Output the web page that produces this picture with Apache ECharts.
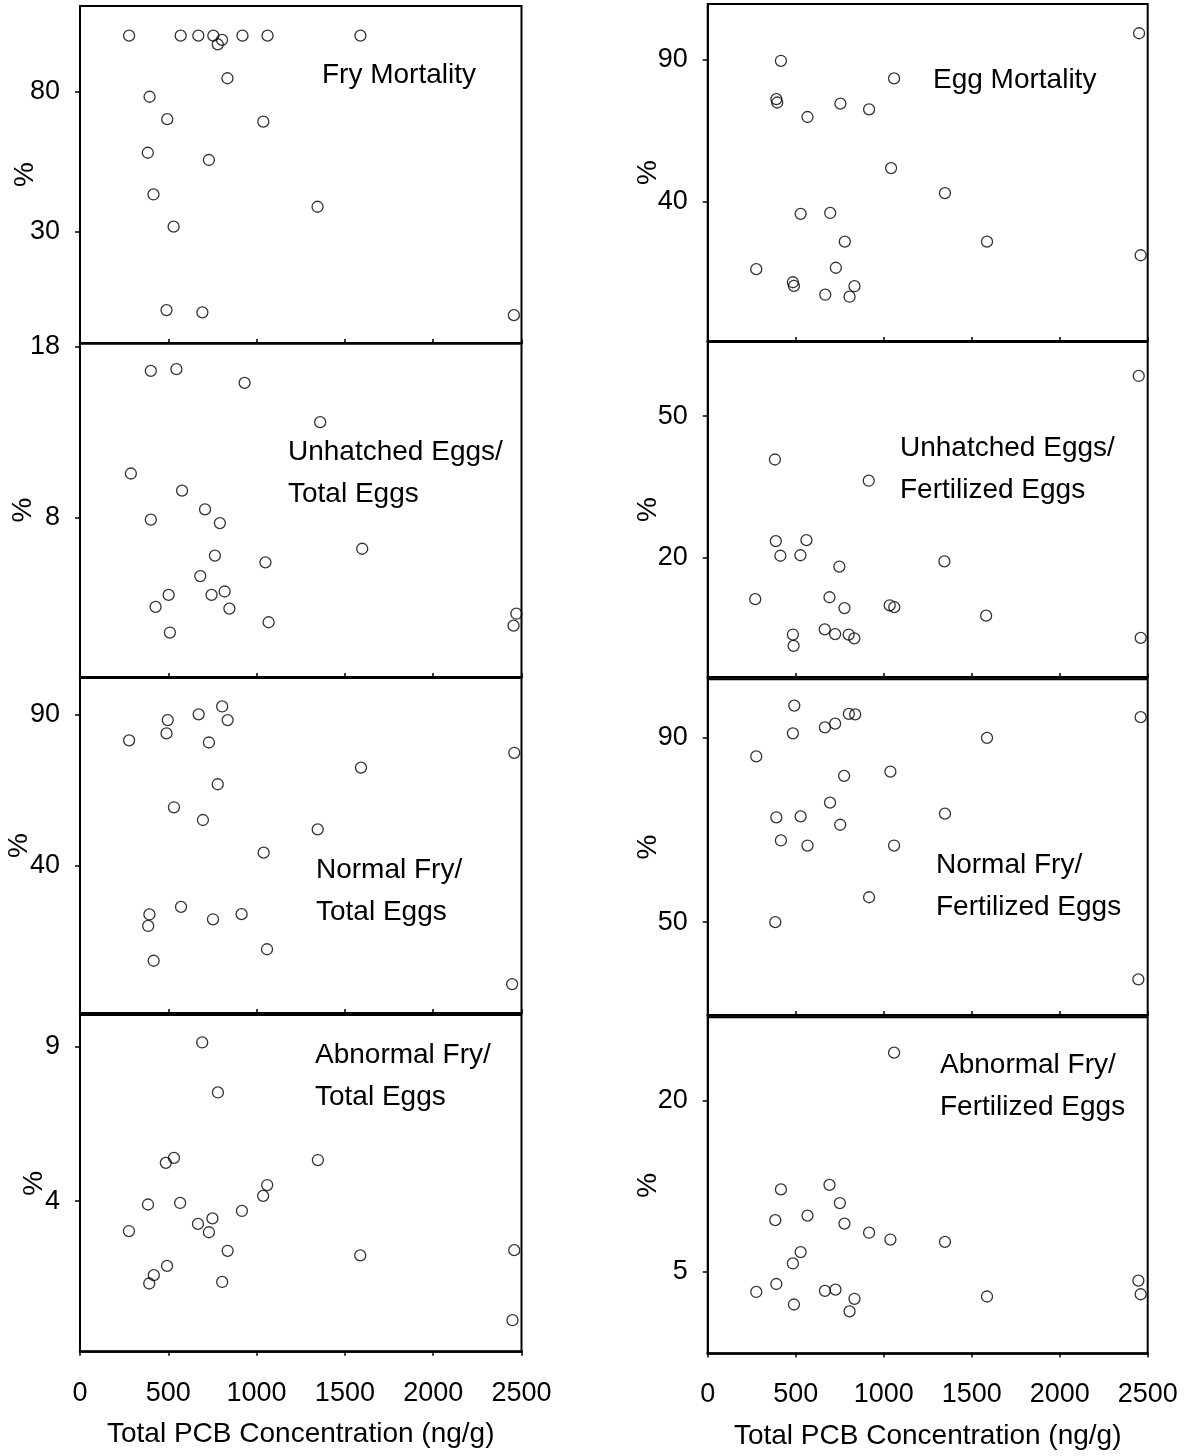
<!DOCTYPE html>
<html><head><meta charset="utf-8">
<script src="https://cdn.jsdelivr.net/npm/echarts@6/dist/echarts.min.js"></script>
<style>html,body{margin:0;padding:0;background:#fff}#c{width:1186px;height:1456px}</style>
</head><body><div id="c"></div>
<script>
// ---------- data ----------
const xTickLabels = [0, 500, 1000, 1500, 2000, 2500];
const xAxisTitle = 'Total PCB Concentration (ng/g)';
const yAxisTitle = '%';

const fryMortalityX = [278, 570, 670, 755, 804, 780, 920, 1062, 1588, 835, 394, 494, 1038, 384, 730, 416, 1345, 530, 490, 693, 2457];
const fryMortalityY = [100, 100, 100, 100, 98.5, 96.9, 100, 100, 100, 84.8, 78.2, 70.2, 69.3, 58.2, 55.6, 43.3, 38.9, 31.8, 2.0, 1.2, 0.2];
const fryMortalityTicks = [30, 80];

const unhatchedTotalX = [401, 546, 932, 1360, 288, 578, 708, 401, 792, 1598, 764, 1050, 681, 502, 745, 819, 428, 846, 1068, 509, 2471, 2455];
const unhatchedTotalY = [16.6, 16.7, 15.9, 13.6, 10.6, 9.6, 8.5, 7.9, 7.7, 6.2, 5.8, 5.4, 4.6, 3.5, 3.5, 3.7, 2.8, 2.7, 1.9, 1.3, 2.4, 1.7];
const unhatchedTotalTicks = [8, 18];

const normalTotalX = [278, 490, 497, 672, 805, 836, 730, 780, 532, 696, 1591, 2459, 1346, 1040, 572, 393, 386, 753, 915, 1059, 417, 2447];
const normalTotalY = [81.4, 83.7, 88.1, 90.0, 92.6, 88.1, 80.7, 66.9, 59.3, 55.1, 72.4, 77.3, 52.0, 44.3, 26.4, 23.9, 20.1, 22.3, 24.0, 12.4, 8.6, 0.9];
const normalTotalTicks = [40, 90];

const abnormalTotalX = [692, 781, 486, 532, 1347, 1060, 1037, 385, 567, 917, 750, 668, 730, 277, 836, 1587, 2459, 493, 418, 392, 805, 2449];
const abnormalTotalY = [9.14, 7.52, 5.24, 5.40, 5.33, 4.52, 4.17, 3.89, 3.94, 3.68, 3.44, 3.26, 2.99, 3.03, 2.39, 2.24, 2.41, 1.90, 1.60, 1.33, 1.38, 0.14];
const abnormalTotalTicks = [4, 9];

const eggMortalityX = [2451, 416, 1059, 390, 395, 754, 917, 567, 1042, 1348, 528, 696, 779, 1587, 2460, 276, 728, 484, 490, 834, 668, 806];
const eggMortalityY = [99.2, 89.5, 83.3, 76.0, 74.8, 74.4, 72.4, 69.7, 51.7, 42.9, 35.6, 35.9, 25.8, 25.8, 21.0, 16.1, 16.6, 11.5, 10.2, 10.1, 7.1, 6.4];
const eggMortalityTicks = [40, 90];

const unhatchedFertX = [2449, 382, 915, 387, 561, 413, 527, 748, 1345, 270, 692, 777, 1034, 1060, 1582, 665, 724, 801, 833, 484, 488, 2460];
const unhatchedFertY = [58.5, 40.8, 36.3, 23.5, 23.7, 20.4, 20.5, 18.1, 19.2, 11.2, 11.6, 9.3, 9.9, 9.5, 7.7, 4.8, 3.8, 3.7, 2.9, 3.7, 1.3, 3.0];
const unhatchedFertTicks = [20, 50];

const normalFertX = [492, 802, 838, 2460, 724, 666, 484, 1587, 276, 1038, 775, 695, 390, 528, 1348, 753, 416, 567, 1059, 917, 384, 2447];
const normalFertY = [96.9, 95.1, 95.0, 94.4, 93.0, 92.2, 90.9, 89.9, 85.9, 82.6, 81.7, 75.9, 72.7, 72.9, 73.5, 71.1, 67.7, 66.6, 66.6, 55.4, 50.0, 37.6];
const normalFertTicks = [50, 90];

const abnormalFertX = [1059, 692, 416, 751, 567, 384, 777, 917, 1038, 1348, 528, 484, 390, 276, 666, 726, 1587, 834, 490, 806, 2447, 2460];
const abnormalFertY = [24.2, 12.6, 12.2, 11.0, 9.9, 9.5, 9.2, 8.4, 7.8, 7.6, 6.7, 5.7, 3.9, 3.2, 3.3, 3.4, 2.8, 2.6, 2.1, 1.5, 4.2, 3.0];
const abnormalFertTicks = [5, 20];

// ---------- layout ----------
const FONT = '"Liberation Sans", Arial, sans-serif';
const FS = 27;
const FT = 28;
const panels = [
  {x: fryMortalityX, y: fryMortalityY, ticks: fryMortalityTicks, min: -9.75, max: 110.6, left: 80, width: 441.5, top: 6, height: 337, bottom: false, label: 'Fry Mortality', lx: 322, ly: 75, pct: 55},
  {x: unhatchedTotalX, y: unhatchedTotalY, ticks: unhatchedTotalTicks, min: -1.3, max: 18.23, left: 80, width: 441.5, top: 343, height: 334, bottom: false, label: 'Unhatched Eggs/\nTotal Eggs', lx: 288, ly: 452, pct: 57},
  {x: normalTotalX, y: normalTotalY, ticks: normalTotalTicks, min: -8.65, max: 102.0, left: 80, width: 441.5, top: 678, height: 335, bottom: false, label: 'Normal Fry/\nTotal Eggs', lx: 316, ly: 870, pct: 61},
  {x: abnormalTotalX, y: abnormalTotalY, ticks: abnormalTotalTicks, min: -0.88, max: 10.03, left: 80, width: 441.5, top: 1015, height: 336.7, bottom: true, label: 'Abnormal Fry/\nTotal Eggs', lx: 315, ly: 1055, pct: 46},
  {x: eggMortalityX, y: eggMortalityY, ticks: eggMortalityTicks, min: -9.2, max: 109.5, left: 707.7, width: 440, top: 4, height: 337, bottom: false, label: 'Egg Mortality', lx: 933, ly: 80, pct: 59},
  {x: unhatchedFertX, y: unhatchedFertY, ticks: unhatchedFertTicks, min: -5.3, max: 65.7, left: 707.7, width: 440, top: 342, height: 335, bottom: false, label: 'Unhatched Eggs/\nFertilized Eggs', lx: 900, ly: 448, pct: 59},
  {x: normalFertX, y: normalFertY, ticks: normalFertTicks, min: 29.9, max: 102.6, left: 707.7, width: 440, top: 679.3, height: 335.7, bottom: false, label: 'Normal Fry/\nFertilized Eggs', lx: 936, ly: 865, pct: 59},
  {x: abnormalFertX, y: abnormalFertY, ticks: abnormalFertTicks, min: -2.2, max: 27.3, left: 707.7, width: 440, top: 1017.3, height: 336.2, bottom: true, label: 'Abnormal Fry/\nFertilized Eggs', lx: 940, ly: 1065, pct: 59}
];

const grid = [], xAxis = [], yAxis = [], series = [], graphic = [];
panels.forEach((p, i) => {
  grid.push({left: p.left, top: p.top, width: p.width, height: p.height, show: true, borderColor: '#000', borderWidth: 2, backgroundColor: 'transparent'});
  xAxis.push({
    gridIndex: i, type: 'value', min: xTickLabels[0], max: xTickLabels[xTickLabels.length - 1],
    interval: xTickLabels[1] - xTickLabels[0],
    splitLine: {show: false},
    axisLine: {show: true, onZero: false, lineStyle: {color: '#000', width: 2.5}},
    axisTick: {show: true, inside: !p.bottom, length: 4, lineStyle: {color: '#000', width: 1.5}},
    axisLabel: {show: p.bottom, margin: 28, color: '#000', fontFamily: FONT, fontSize: FS, showMaxLabel: true, showMinLabel: true,
      formatter: v => String(v)},
    name: p.bottom ? xAxisTitle : '', nameLocation: 'middle', nameGap: 69,
    nameTextStyle: {color: '#000', fontFamily: FONT, fontSize: FT}
  });
  yAxis.push({
    gridIndex: i, type: 'value', min: p.min, max: p.max,
    splitLine: {show: false},
    axisLine: {show: true, onZero: false, lineStyle: {color: '#000', width: 2}},
    axisTick: {show: true, customValues: p.ticks, length: 5, lineStyle: {color: '#000', width: 1.5}},
    axisLabel: {show: true, customValues: p.ticks, margin: 20, color: '#000', fontFamily: FONT, fontSize: FS,
      formatter: v => String(v)}
  });
  series.push({
    type: 'scatter', xAxisIndex: i, yAxisIndex: i,
    data: p.x.map((v, k) => [v, p.y[k]]),
    symbol: 'circle', symbolSize: 11,
    itemStyle: {color: 'rgba(255,255,255,0)', borderColor: '#000', borderWidth: 1.3},
    emphasis: {disabled: true}, silent: true
  });
  graphic.push({
    type: 'text', left: p.lx, top: p.ly - 21,
    style: {text: p.label, font: FT + 'px ' + FONT, fill: '#000', lineHeight: 42}
  });
  graphic.push({
    type: 'text', x: p.left - p.pct, y: p.top + p.height / 2, rotation: Math.PI / 2,
    style: {text: yAxisTitle, font: FT + 'px ' + FONT, fill: '#000', align: 'center', verticalAlign: 'middle'}
  });
});

const chart = echarts.init(document.getElementById('c'), null, {renderer: 'canvas'});
chart.setOption({animation: false, backgroundColor: '#fff', grid, xAxis, yAxis, series, graphic});
</script>
</body></html>
